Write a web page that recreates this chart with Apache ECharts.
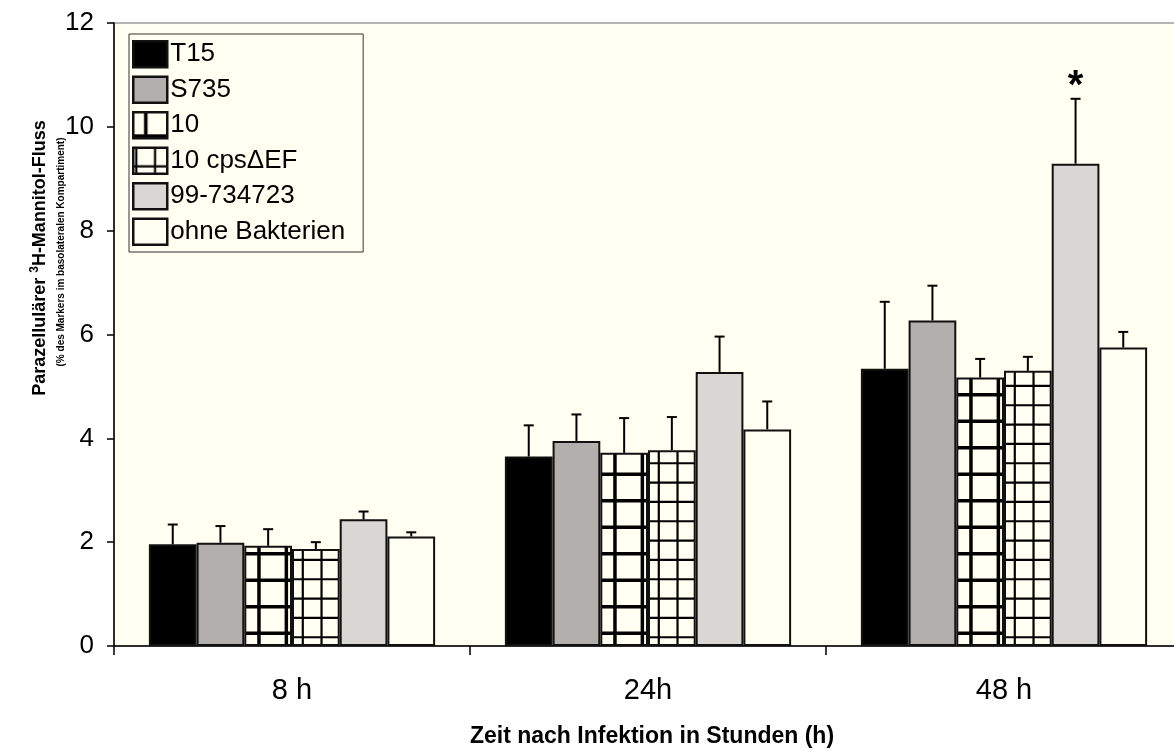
<!DOCTYPE html>
<html>
<head>
<meta charset="utf-8">
<script src="https://cdn.jsdelivr.net/npm/echarts@6/dist/echarts.min.js"></script>
<style>
  html, body { margin: 0; padding: 0; background: #ffffff; }
  #chart { width: 1174px; height: 752px; }
</style>
</head>
<body>
<div id="chart"></div>
<script>
// Time points after infection
const categories = ['8 h', '24h', '48 h'];

// Paracellular 3H-mannitol flux (% of marker in basolateral compartment), mean and SD
const seriesNames = ['T15', 'S735', '10', '10 cps\u0394EF', '99-734723', 'ohne Bakterien'];
const fluxT15 = [1.96, 3.65, 5.34];
const fluxS735 = [1.99, 3.95, 6.27];
const flux10 = [1.93, 3.72, 5.17];
const flux10cps = [1.87, 3.77, 5.30];
const flux99 = [2.44, 5.28, 9.29];
const fluxOhne = [2.11, 4.17, 5.75];

const sdT15 = [0.38, 0.60, 1.29];
const sdS735 = [0.32, 0.51, 0.67];
const sd10 = [0.32, 0.67, 0.36];
const sd10cps = [0.13, 0.64, 0.27];
const sd99 = [0.15, 0.68, 1.25];
const sdOhne = [0.08, 0.54, 0.30];

// Significance marks per series and time point
const sig99 = ['', '', '*'];
const sigNone = ['', '', ''];

const yTicks = { min: 0, max: 12, interval: 2 };

const means = [fluxT15, fluxS735, flux10, flux10cps, flux99, fluxOhne];
const sds = [sdT15, sdS735, sd10, sd10cps, sd99, sdOhne];
const sigs = [sigNone, sigNone, sigNone, sigNone, sig99, sigNone];

const BG = '#fffff2';
const FONT = '"Liberation Sans", Arial, sans-serif';
const BAR_FRAC = 0.134;

// Grid-like hatch fills for the two strain-10 series
function gridPattern(w, h, cols, colOffset, rows, rowOffset, lw) {
  const c = document.createElement('canvas');
  c.width = w; c.height = h;
  const g = c.getContext('2d');
  g.fillStyle = BG;
  g.fillRect(0, 0, w, h);
  g.strokeStyle = '#000';
  g.lineWidth = lw;
  const cw = w / cols;
  for (let i = -1; i <= cols; i++) {
    const x = colOffset + i * cw;
    g.beginPath(); g.moveTo(x, 0); g.lineTo(x, h); g.stroke();
  }
  const rh = h / rows;
  for (let j = -1; j <= rows; j++) {
    const y = rowOffset + j * rh;
    g.beginPath(); g.moveTo(0, y); g.lineTo(w, y); g.stroke();
  }
  return { image: c, repeat: 'repeat' };
}

const pattern10 = gridPattern(356, 53, 13, 12.5, 2, 23.8, 3.5);
const pattern10cps = gridPattern(356, 58, 19, 3, 3, 18.6, 2.2);

const fills = ['#000000', '#b2afac', pattern10, pattern10cps, '#d8d7d3', BG];

const barSeries = seriesNames.map((name, i) => ({
  name: name,
  type: 'bar',
  barWidth: (BAR_FRAC * 100) + '%',
  barGap: '0%',
  itemStyle: { color: fills[i], borderColor: '#111', borderWidth: 2 },
  data: means[i],
  z: 2
}));

const errSeries = seriesNames.map((name, i) => ({
  name: name + ' SD',
  type: 'custom',
  z: 3,
  data: means[i].map((v, k) => [k, v, sds[i][k]]),
  encode: { x: 0, y: 1 },
  renderItem: function (params, api) {
    const cat = api.value(0);
    const val = api.value(1);
    const sd = api.value(2);
    const mark = sigs[i][params.dataIndex];
    const band = api.size([1, 0])[0];
    const x = api.coord([cat, 0])[0] + (i - 2.5) * band * BAR_FRAC;
    const yTop = api.coord([cat, val])[1];
    const yErr = api.coord([cat, val + sd])[1];
    const children = [
      { type: 'line', shape: { x1: x, y1: yTop, x2: x, y2: yErr }, style: { stroke: '#000', lineWidth: 2 } },
      { type: 'line', shape: { x1: x - 5, y1: yErr, x2: x + 5, y2: yErr }, style: { stroke: '#000', lineWidth: 2 } }
    ];
    if (mark) {
      children.push({
        type: 'text',
        style: { text: mark, x: x, y: yErr - 12, align: 'center', verticalAlign: 'middle',
                 font: 'bold 40px ' + FONT, fill: '#000' }
      });
    }
    return { type: 'group', children: children };
  }
}));

const chart = echarts.init(document.getElementById('chart'), null, { renderer: 'canvas' });
chart.setOption({
  animation: false,
  backgroundColor: '#ffffff',
  grid: {
    left: 114, top: 23, width: 1068, bottom: 106,
    outerBoundsMode: 'none',
    show: true, backgroundColor: BG, borderColor: '#9a9a9a', borderWidth: 1.5
  },
  legend: {
    data: seriesNames,
    orient: 'vertical',
    left: 129, top: 34,
    icon: 'rect',
    itemWidth: 34, itemHeight: 26, itemGap: 7,
    padding: [6, 18, 6, 3],
    borderColor: '#333', borderWidth: 1,
    backgroundColor: BG,
    selectedMode: false,
    itemStyle: { borderWidth: 2.5, borderColor: '#111' },
    textStyle: { fontSize: 26, color: '#000', fontFamily: FONT, padding: [0, 0, 0, -2] }
  },
  xAxis: {
    type: 'category',
    data: categories,
    axisLine: { lineStyle: { color: '#000', width: 1.5 } },
    axisTick: { show: true, length: 9, lineStyle: { color: '#000', width: 1.5 } },
    axisLabel: { fontSize: 29, color: '#000', fontFamily: FONT, margin: 30 },
    splitLine: { show: false }
  },
  yAxis: {
    type: 'value',
    min: yTicks.min, max: yTicks.max, interval: yTicks.interval,
    axisLine: { show: true, lineStyle: { color: '#000', width: 1.5 } },
    axisTick: { show: true, length: 7, lineStyle: { color: '#000', width: 1.5 } },
    axisLabel: { fontSize: 26, color: '#000', fontFamily: FONT, margin: 20 },
    splitLine: { show: false }
  },
  graphic: [
    {
      type: 'text', x: 40, y: 258, rotation: Math.PI / 2,
      style: {
        text: 'Parazellulärer {sup|3}H-Mannitol-Fluss',
        align: 'center', verticalAlign: 'middle',
        font: 'bold 18px ' + FONT, fill: '#000',
        rich: { sup: { font: 'bold 12px ' + FONT, verticalAlign: 'top', padding: [0, 0, 10, 0] } }
      }
    },
    {
      type: 'text', x: 61, y: 252, rotation: Math.PI / 2,
      style: {
        text: '(% des Markers im basolateralen Kompartiment)',
        align: 'center', verticalAlign: 'middle',
        font: 'bold 10px ' + FONT, fill: '#000'
      }
    },
    {
      type: 'text', x: 652, y: 737,
      style: {
        text: 'Zeit nach Infektion in Stunden (h)',
        align: 'center', verticalAlign: 'middle',
        font: 'bold 23px ' + FONT, fill: '#000'
      }
    }
  ],
  series: barSeries.concat(errSeries)
});
</script>
</body>
</html>
